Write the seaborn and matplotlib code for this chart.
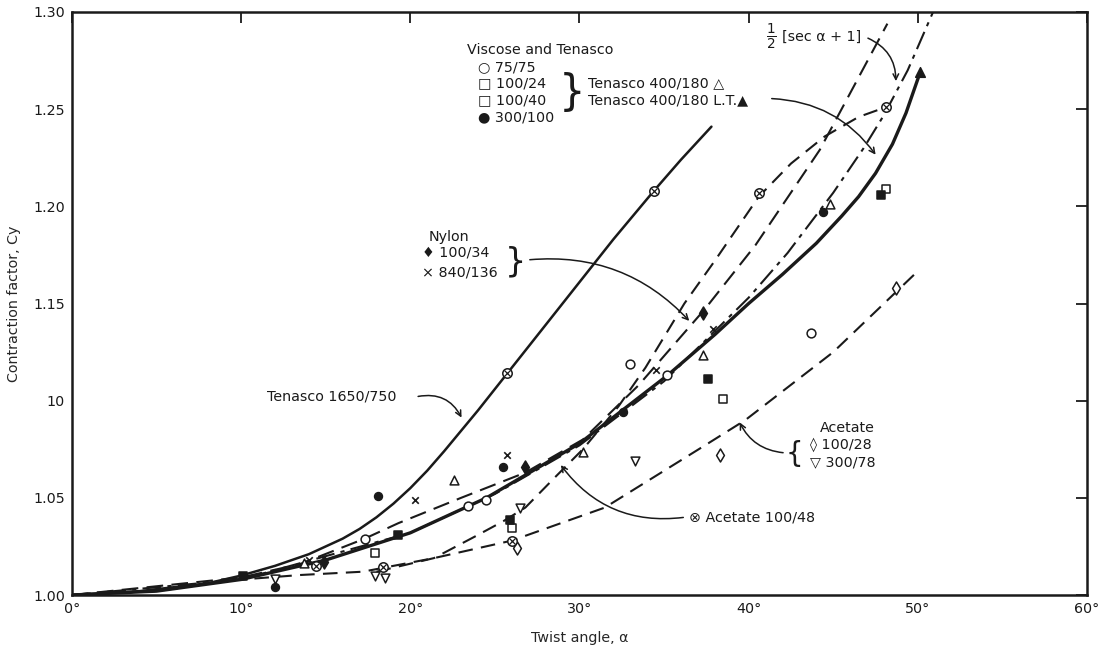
import matplotlib
matplotlib.use("Agg")
import matplotlib.pyplot as plt
import seaborn as sns
import pandas as pd

# ---------------- curves ----------------
ten1650_x = [0, 4, 8, 10, 12, 14, 16, 17, 18, 19, 20, 21, 22, 24, 26, 28, 30, 32, 34.4, 36, 37.8]
ten1650_y = [1.0, 1.002, 1.006, 1.010, 1.015, 1.021, 1.029, 1.034, 1.040, 1.047, 1.055, 1.064,
             1.074, 1.095, 1.117, 1.139, 1.161, 1.183, 1.208, 1.224, 1.241]

ten400_x = [0, 5, 10, 15, 20, 24.5, 30, 35.2, 38, 40, 42, 44, 45.5, 46.5, 47.5, 48.5, 49.3, 50.1]
ten400_y = [1.0, 1.002, 1.008, 1.018, 1.032, 1.050, 1.078, 1.113, 1.134, 1.150, 1.165, 1.181,
            1.195, 1.205, 1.217, 1.232, 1.248, 1.268]

sec_x = [0, 10, 20, 25, 30, 35, 40, 42.3, 45, 46.8, 48, 49.4, 50.9]
sec_y = [1.0, 1.008, 1.032, 1.052, 1.077, 1.110, 1.153, 1.176, 1.207, 1.230, 1.247, 1.270, 1.300]

nylon_x = [0, 10, 13.5, 17.3, 19.3, 23, 26.8, 30.2, 33.5, 37.4, 40.4, 44.2, 48.2]
nylon_y = [1.0, 1.009, 1.016, 1.029, 1.037, 1.050, 1.063, 1.080, 1.108, 1.147, 1.180, 1.229, 1.294]

ac48_x = [18, 21.4, 23.8, 25.5, 26.8, 28.6, 30.2, 32.3, 33.9, 36.2, 38, 40.6, 42.5, 44.5, 46.5, 48.1]
ac48_y = [1.012, 1.019, 1.030, 1.038, 1.045, 1.061, 1.075, 1.097, 1.117, 1.150, 1.172, 1.205,
          1.222, 1.236, 1.246, 1.251]

ac28_x = [0, 5, 9.6, 13.5, 17.2, 21.4, 26, 31.5, 37.6, 39.8, 45, 49.8]
ac28_y = [1.0, 1.002, 1.0077, 1.0103, 1.012, 1.019, 1.028, 1.045, 1.078, 1.090, 1.125, 1.165]

# ---------------- measured points ----------------
c_open_x = [17.3, 23.4, 24.5, 33.0, 35.2, 43.7]
c_open_y = [1.029, 1.046, 1.049, 1.119, 1.113, 1.135]
sq_open_x = [17.9, 26.0, 38.5, 48.1]
sq_open_y = [1.0216, 1.0345, 1.101, 1.209]
sq_fill_x = [10.1, 19.3, 25.9, 37.6, 47.8]
sq_fill_y = [1.010, 1.031, 1.0386, 1.111, 1.206]
c_fill_x = [12.0, 18.1, 25.5, 32.6, 44.4]
c_fill_y = [1.004, 1.051, 1.066, 1.094, 1.197]
tri_open_x = [13.7, 22.6, 30.2, 37.3, 44.8]
tri_open_y = [1.0165, 1.059, 1.0736, 1.1235, 1.201]
tri_fill_x = [50.1]
tri_fill_y = [1.269]
dia_fill_x = [14.9, 26.8, 37.3]
dia_fill_y = [1.017, 1.066, 1.145]
cross_x = [14.0, 20.3, 25.7, 34.5, 37.9]
cross_y = [1.018, 1.049, 1.072, 1.116, 1.137]
dia_open_x = [26.3, 38.3, 48.7]
dia_open_y = [1.024, 1.072, 1.158]
tri_down_x = [12.0, 17.9, 18.5, 26.5, 33.3]
tri_down_y = [1.008, 1.010, 1.009, 1.045, 1.069]
otimes_x = [14.4, 18.4, 26.0, 40.6, 48.1, 25.7, 34.4]
otimes_y = [1.015, 1.0144, 1.028, 1.207, 1.251, 1.114, 1.208]

x_ticks = [0, 10, 20, 30, 40, 50, 60]
x_labels = ["0°", "10°", "20°", "30°", "40°", "50°", "60°"]
y_ticks = [1.00, 1.05, 1.10, 1.15, 1.20, 1.25, 1.30]
y_labels = ["1.00", "1.05", "10", "1.15", "1.20", "1.25", "1.30"]

sns.set_style("white")
plt.rcParams["font.family"] = ["DejaVu Sans"]

fig = plt.figure(figsize=(11.04, 6.52), dpi=100)
ax = fig.add_axes([0.0652, 0.0874, 0.9194, 0.8942])

K = "#1a1a1a"

def curve(xs, ys, **kw):
    df = pd.DataFrame({"x": xs, "y": ys})
    sns.lineplot(data=df, x="x", y="y", ax=ax, sort=False, color=K, **kw)

curve(ten1650_x, ten1650_y, linewidth=1.8)
curve(ten400_x, ten400_y, linewidth=2.4)
curve(sec_x, sec_y, linewidth=1.5, dashes=(9, 3, 2, 3))
curve(nylon_x, nylon_y, linewidth=1.5, dashes=(8, 4))
curve(ac48_x, ac48_y, linewidth=1.5, dashes=(7, 4))
curve(ac28_x, ac28_y, linewidth=1.5, dashes=(7, 4))

def pts(xs, ys, marker, size=36, filled=False, lw=1.1, z=5):
    df = pd.DataFrame({"x": xs, "y": ys})
    if filled:
        sns.scatterplot(data=df, x="x", y="y", ax=ax, marker=marker, s=size,
                        color=K, edgecolor=K, linewidth=lw, zorder=z)
    else:
        sns.scatterplot(data=df, x="x", y="y", ax=ax, marker=marker, s=size,
                        facecolor="white", edgecolor=K, linewidth=lw, zorder=z)

pts(c_open_x, c_open_y, "o", 40)
pts(sq_open_x, sq_open_y, "s", 32)
pts(sq_fill_x, sq_fill_y, "s", 32, filled=True)
pts(c_fill_x, c_fill_y, "o", 32, filled=True)
pts(tri_open_x, tri_open_y, "^", 40)
pts(tri_fill_x, tri_fill_y, "^", 48, filled=True)
pts(dia_fill_x, dia_fill_y, "d", 44, filled=True)
pts(dia_open_x, dia_open_y, "d", 44)
pts(tri_down_x, tri_down_y, "v", 40)
df_x = pd.DataFrame({"x": cross_x, "y": cross_y})
sns.scatterplot(data=df_x, x="x", y="y", ax=ax, marker="x", s=22, color=K, linewidth=1.2, zorder=5)
# circle-with-cross markers
pts(otimes_x, otimes_y, "o", 46, lw=1.1, z=6)
df_o = pd.DataFrame({"x": otimes_x, "y": otimes_y})
sns.scatterplot(data=df_o, x="x", y="y", ax=ax, marker="x", s=18, color=K, linewidth=0.9, zorder=7)

fs = 10.3
ax.set_xlim(0, 60)
ax.set_ylim(1.0, 1.30)
ax.set_xticks(x_ticks)
ax.set_xticklabels(x_labels, fontsize=fs)
ax.set_yticks(y_ticks)
ax.set_yticklabels(y_labels, fontsize=fs)
ax.tick_params(direction="in", length=8, width=1.3, top=True, right=True, pad=5, colors=K)
for s in ax.spines.values():
    s.set_linewidth(1.8)
    s.set_color(K)
ax.set_xlabel("Twist angle, α", fontsize=fs, labelpad=11)
ax.set_ylabel("Contraction factor, Cy", fontsize=fs, labelpad=9)

T = dict(fontsize=fs, color=K)
# Viscose & Tenasco block
ax.text(23.35, 1.2804, "Viscose and Tenasco", va="center", **T)
ax.text(24.0, 1.2717, "○ 75/75", va="center", **T)
ax.text(24.0, 1.2635, "□ 100/24", va="center", **T)
ax.text(24.0, 1.2547, "□ 100/40", va="center", **T)
ax.text(24.0, 1.2460, "● 300/100", va="center", **T)
ax.text(28.75, 1.2585, "}", va="center", fontsize=30, color=K)
ax.text(30.5, 1.2635, "Tenasco 400/180 △", va="center", **T)
ax.text(30.5, 1.2547, "Tenasco 400/180 L.T.▲", va="center", **T)
ax.annotate("", xy=(47.6, 1.2254), xytext=(41.2, 1.2555),
            arrowprops=dict(arrowstyle="->", color=K, lw=1.1, connectionstyle="arc3,rad=-0.25"))
# sec label
ax.text(41.0, 1.2871, r"$\frac{1}{2}$", va="center", fontsize=14, color=K)
ax.text(42.0, 1.2871, "[sec α + 1]", va="center", **T)
ax.annotate("", xy=(48.7, 1.263), xytext=(46.9, 1.2871),
            arrowprops=dict(arrowstyle="->", color=K, lw=1.1, connectionstyle="arc3,rad=-0.35"))
# Nylon
ax.text(22.3, 1.1842, "Nylon", va="center", ha="center", **T)
ax.text(20.7, 1.1760, "♦ 100/34", va="center", **T)
ax.text(20.7, 1.1662, "× 840/136", va="center", **T)
ax.text(25.6, 1.1712, "}", va="center", fontsize=24, color=K)
ax.annotate("", xy=(36.6, 1.140), xytext=(26.9, 1.1724),
            arrowprops=dict(arrowstyle="->", color=K, lw=1.1, connectionstyle="arc3,rad=-0.25"))
# Tenasco 1650/750
ax.text(11.5, 1.1019, "Tenasco 1650/750", va="center", **T)
ax.annotate("", xy=(23.1, 1.090), xytext=(20.3, 1.1019),
            arrowprops=dict(arrowstyle="->", color=K, lw=1.1, connectionstyle="arc3,rad=-0.4"))
# Acetate 100/48
ax.text(36.5, 1.0401, "⊗ Acetate 100/48", va="center", **T)
ax.annotate("", xy=(28.8, 1.068), xytext=(36.3, 1.0401),
            arrowprops=dict(arrowstyle="->", color=K, lw=1.1, connectionstyle="arc3,rad=-0.3"))
# Acetate 100/28, 300/78
ax.text(44.2, 1.0859, "Acetate", va="center", **T)
ax.text(42.2, 1.0728, "{", va="center", fontsize=20, color=K)
ax.text(43.6, 1.0772, "◊ 100/28", va="center", **T)
ax.text(43.6, 1.0684, "▽ 300/78", va="center", **T)
ax.annotate("", xy=(39.4, 1.0901), xytext=(42.2, 1.0731),
            arrowprops=dict(arrowstyle="->", color=K, lw=1.1, connectionstyle="arc3,rad=-0.3"))

fig.savefig("out.png", dpi=100)
